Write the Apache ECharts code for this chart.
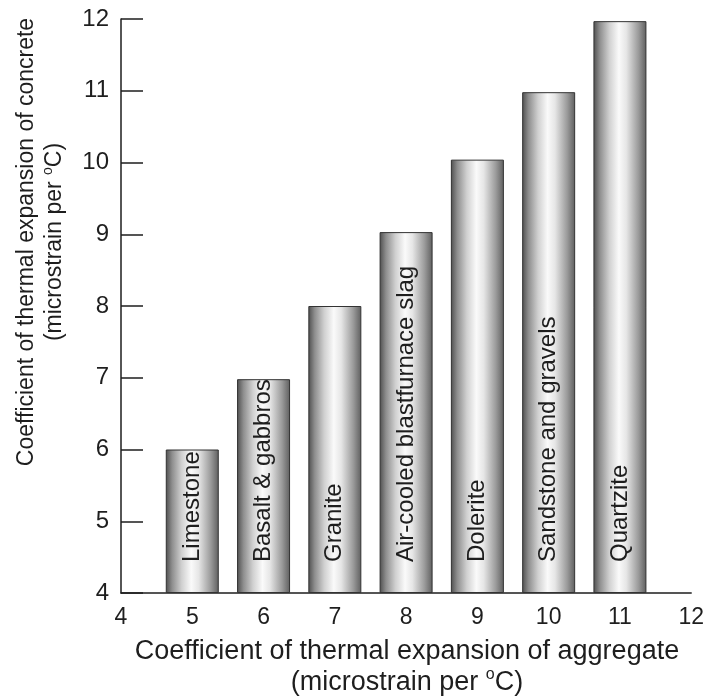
<!DOCTYPE html>
<html>
<head>
<meta charset="utf-8">
<script src="https://cdn.jsdelivr.net/npm/echarts@6/dist/echarts.min.js"></script>
<style>html,body{margin:0;padding:0;background:#fff}#c{width:707px;height:700px}</style>
</head>
<body>
<div id="c"></div>
<script>
// Data
const aggregateCTE = [5, 6, 7, 8, 9, 10, 11];
const concreteCTE = [6.0, 6.98, 8.0, 9.03, 10.04, 10.98, 11.97];
const aggregateNames = ['Limestone', 'Basalt & gabbros', 'Granite', 'Air-cooled blastfurnace slag', 'Dolerite', 'Sandstone and gravels', 'Quartzite'];
const xTicks = [4, 5, 6, 7, 8, 9, 10, 11, 12];
const yTicks = [4, 5, 6, 7, 8, 9, 10, 11, 12];

const FONT = '"Liberation Sans", Arial, sans-serif';
const TXT = '#1e1e1e';

const chart = echarts.init(document.getElementById('c'));
const barGrad = new echarts.graphic.LinearGradient(0, 0, 1, 0, [
  {offset: 0, color: '#4e4e4e'},
  {offset: 0.12, color: '#8e8e8e'},
  {offset: 0.3, color: '#d0d0d0'},
  {offset: 0.48, color: '#fafafa'},
  {offset: 0.62, color: '#e6e6e6'},
  {offset: 0.85, color: '#9a9a9a'},
  {offset: 1, color: '#5e5e5e'}
]);

chart.setOption({
  animation: false,
  backgroundColor: '#fff',
  grid: {left: 121, right: 11, top: 19, bottom: 107, containLabel: false},
  xAxis: {
    type: 'value',
    min: xTicks[0], max: xTicks[xTicks.length - 1], interval: 1,
    axisLine: {show: true, lineStyle: {color: TXT, width: 1.5}},
    axisTick: {show: false},
    splitLine: {show: false},
    axisLabel: {fontFamily: FONT, fontSize: 23, color: TXT, margin: 13}
  },
  yAxis: {
    type: 'value',
    min: yTicks[0], max: yTicks[yTicks.length - 1], interval: 1,
    startValue: yTicks[0],
    axisLine: {show: true, lineStyle: {color: TXT, width: 1.5}},
    axisTick: {show: true, inside: true, length: 22, lineStyle: {color: TXT, width: 1.5}},
    splitLine: {show: false},
    axisLabel: {fontFamily: FONT, fontSize: 24, color: TXT, margin: 12}
  },
  series: [{
    type: 'bar',
    barWidth: 53,
    data: aggregateCTE.map((x, i) => ({value: [x, concreteCTE[i]], name: aggregateNames[i]})),
    itemStyle: {color: barGrad, borderColor: '#333', borderWidth: 1},
    label: {
      show: true,
      position: 'insideBottom',
      rotate: 90,
      align: 'left',
      verticalAlign: 'middle',
      distance: 31,
      formatter: p => p.name,
      fontFamily: FONT,
      fontSize: 24,
      color: TXT
    }
  }],
  graphic: [
    {
      type: 'text',
      x: 41, y: 242,
      rotation: Math.PI / 2,
      style: {
        text: 'Coefficient of thermal expansion of concrete\n(microstrain per {sup|o}C)',
        align: 'center', verticalAlign: 'middle',
        fontFamily: FONT, fontSize: 23, fill: TXT, lineHeight: 28,
        rich: {sup: {fontFamily: FONT, fontSize: 14, verticalAlign: 'top', lineHeight: 22, fill: TXT}}
      }
    },
    {
      type: 'text',
      x: 407, y: 667,
      style: {
        text: 'Coefficient of thermal expansion of aggregate\n(microstrain per {sup|o}C)',
        align: 'center', verticalAlign: 'middle',
        fontFamily: FONT, fontSize: 27, fill: TXT, lineHeight: 31,
        rich: {sup: {fontFamily: FONT, fontSize: 16, verticalAlign: 'top', lineHeight: 24, fill: TXT}}
      }
    }
  ]
});
</script>
</body>
</html>
